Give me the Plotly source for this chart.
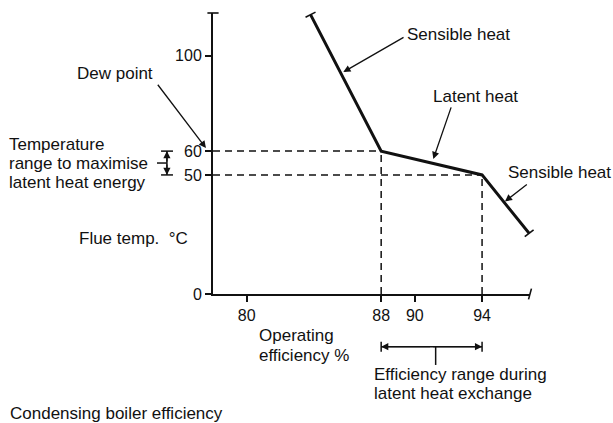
import plotly.graph_objects as go

# Flue temperature against operating efficiency (schematic)
efficiency = [83.8, 88, 94, 96.8]          # operating efficiency, %
flue_temp = [117.3, 60, 50, 25.5]          # flue temperature, degC
dew_point = 60                             # degC
latent_end_temp = 50                       # degC
latent_start_eff = 88                      # %
latent_end_eff = 94                        # %

x_ticks = [80, 88, 90, 94]
y_ticks = [0, 50, 60, 100]

X_RANGE = [78, 96.85]
Y_RANGE = [0, 118]

W, H = 613, 423
MARGIN = dict(l=213, r=83, t=13, b=129)
PLOT_W = W - MARGIN["l"] - MARGIN["r"]
PLOT_H = H - MARGIN["t"] - MARGIN["b"]

INK = "#111111"
FONT = "Liberation Sans, Arial, Helvetica, sans-serif"


def xp(x):
    """Data x -> paper fraction."""
    return (x - X_RANGE[0]) / (X_RANGE[1] - X_RANGE[0])


def yp(y):
    """Data y -> paper fraction."""
    return (y - Y_RANGE[0]) / (Y_RANGE[1] - Y_RANGE[0])


fig = go.Figure()

# dashed guide lines at the dew point and end of latent heat exchange
guide = dict(color=INK, width=1.5, dash="7px,5px")
fig.add_trace(go.Scatter(x=[X_RANGE[0], latent_start_eff], y=[dew_point, dew_point],
                         mode="lines", line=guide, hoverinfo="skip"))
fig.add_trace(go.Scatter(x=[X_RANGE[0], latent_end_eff], y=[latent_end_temp, latent_end_temp],
                         mode="lines", line=guide, hoverinfo="skip"))
fig.add_trace(go.Scatter(x=[latent_start_eff, latent_start_eff], y=[0, dew_point],
                         mode="lines", line=guide, hoverinfo="skip"))
fig.add_trace(go.Scatter(x=[latent_end_eff, latent_end_eff], y=[0, latent_end_temp],
                         mode="lines", line=guide, hoverinfo="skip"))

# main curve
fig.add_trace(go.Scatter(x=efficiency, y=flue_temp, mode="lines",
                         line=dict(color=INK, width=3), hoverinfo="skip"))

# small end bars on the curve and on the axis ends
fig.add_trace(go.Scatter(
    x=[efficiency[0], efficiency[-1], X_RANGE[0], X_RANGE[1]],
    y=[flue_temp[0], flue_temp[-1], Y_RANGE[1], 0],
    mode="markers", cliponaxis=False, hoverinfo="skip",
    marker=dict(symbol=["line-ew", "line-ew", "line-ew", "line-ns"],
                angle=[-27, -38, 0, 15], size=8,
                line=dict(color=INK, width=1.6)),
))

ann = []


def label(text, x, y, size=17):
    ann.append(dict(text=text, x=xp(x), y=yp(y), xref="paper", yref="paper",
                    showarrow=False, xanchor="left", yanchor="middle",
                    borderpad=0,
                    font=dict(family=FONT, size=size, color=INK)))


def arrow(x0, y0, x1, y1):
    # tail offset in pixels from the head
    ax = (xp(x0) - xp(x1)) * PLOT_W
    ay = -(yp(y0) - yp(y1)) * PLOT_H
    ann.append(dict(text="", x=xp(x1), y=yp(y1), ax=ax, ay=ay,
                    xref="paper", yref="paper", axref="pixel", ayref="pixel",
                    showarrow=True, arrowhead=2, arrowsize=1.1, arrowwidth=1.3,
                    arrowcolor=INK, standoff=0, startstandoff=0))


label("Sensible heat", 89.5, 108.8)
arrow(89.42, 108.1, 85.75, 93.2)
label("Latent heat", 91.05, 82.9)
arrow(92.19, 79.0, 91.10, 56.7)
label("Sensible heat", 95.5, 50.9)
arrow(96.75, 46.5, 95.36, 38.85)

label("Dew point", 69.85, 92.8)
arrow(74.65, 88.5, 77.58, 61.3)

label("Temperature", 65.81, 62.9)
label("range to maximise", 65.81, 54.8)
label("latent heat energy", 65.81, 46.7)

label("Flue temp.\u00a0 \u00b0C", 69.97, 23.5)
label("Operating", 80.68, -17.6)
label("efficiency %", 80.68, -25.9)
label("Efficiency range during", 87.5, -33.7)
label("latent heat exchange", 87.5, -41.8)
label("Condensing boiler efficiency", 65.87, -50.0)

# bracket arrows for the 50-60 degC range
mid_t = (dew_point + latent_end_temp) / 2
arrow(75.26, mid_t, 75.26, dew_point)
arrow(75.26, mid_t, 75.26, latent_end_temp)
# bracket arrows for the 88-94 % range
mid_e = (latent_start_eff + latent_end_eff) / 2
arrow(mid_e, -22.1, latent_start_eff, -22.1)
arrow(mid_e, -22.1, latent_end_eff, -22.1)

shapes = []


def seg(x0, y0, x1, y1, w=1.5):
    shapes.append(dict(type="line", xref="paper", yref="paper",
                       x0=xp(x0), y0=yp(y0), x1=xp(x1), y1=yp(y1),
                       line=dict(color=INK, width=w)))


# temperature bracket: spine, caps and lead line
seg(75.26, latent_end_temp, 75.26, dew_point)
seg(74.91, dew_point, 75.62, dew_point)
seg(74.91, latent_end_temp, 75.62, latent_end_temp)
seg(74.67, mid_t, 75.26, mid_t)
# efficiency bracket: spine, caps and lead line
seg(latent_start_eff, -22.1, latent_end_eff, -22.1)
seg(latent_start_eff, -20.0, latent_start_eff, -24.2)
seg(latent_end_eff, -20.0, latent_end_eff, -24.2)
seg(91.24, -22.1, 91.24, -29.8)

axis_common = dict(showline=True, linewidth=2, linecolor=INK, ticks="outside",
                   ticklen=6, tickwidth=1.5, tickcolor=INK, showgrid=False,
                   zeroline=False, tickfont=dict(family=FONT, size=16, color=INK))

fig.update_layout(
    width=W, height=H,
    margin=MARGIN,
    paper_bgcolor="white", plot_bgcolor="white",
    showlegend=False,
    xaxis=dict(range=X_RANGE, tickvals=x_ticks, **axis_common),
    yaxis=dict(range=Y_RANGE, tickvals=y_ticks, **axis_common),
    annotations=ann, shapes=shapes,
)

fig.write_html("out.html")
